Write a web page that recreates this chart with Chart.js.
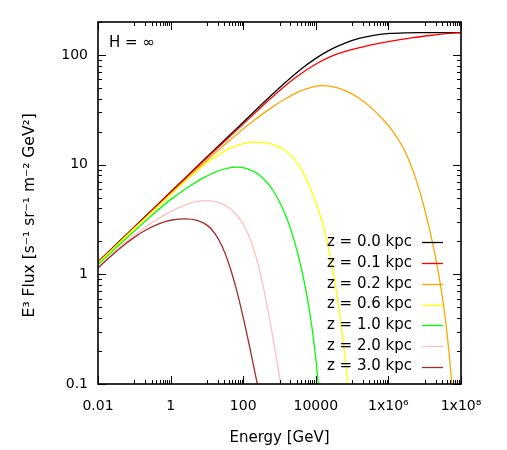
<!DOCTYPE html>
<html><head><meta charset="utf-8">
<script src="https://cdn.jsdelivr.net/npm/chart.js@4/dist/chart.umd.min.js"></script>
<style>html,body{margin:0;padding:0;background:#fff}#wrap{width:507px;height:450px}</style>
</head><body><div id="wrap"><canvas id="c" width="507" height="450"></canvas></div>
<script>
// ---- data (energy in GeV, E^3 flux) ----
const seriesLabels = ['z = 0.0 kpc','z = 0.1 kpc','z = 0.2 kpc','z = 0.6 kpc','z = 1.0 kpc','z = 2.0 kpc','z = 3.0 kpc'];
const seriesColors = ['#000000','#ff0000','#ffa500','#ffff00','#00ff00','#ffc0c0','#a52a2a'];

const eZ00 = [0.01,0.1,1,10,100,547,1418,3670,9510,24610,63740,165000,427500,1.107e6,2.866e6,7.42e6,1e8];
const fZ00 = [1.30,2.70,5.63,11.73,24.4,41.8,55.9,73.1,92.2,111.5,128.5,142.5,152.1,157.3,159.4,160,160];

const eZ01 = [0.01,0.1,1,10,81.6,351,1032,3035,8374,24610,72370,199700,586900,1.726e6,4.76e6,1.4e7,4.115e7,1e8];
const fZ01 = [1.286,2.68,5.57,11.55,22.0,34.7,47.7,63.6,79.9,96.0,109.0,118.7,128.2,136.9,144.2,150.7,156.5,160];

const eZ02 = [0.01,0.1,1,10,43.3,153.8,547,1418,3670,7860,16100,37650,87540,203400,383700,710000,1.365e6,2.574e6,3.936e6,6.02e6,9.15e6,1.4e7,1.922e7,2.64e7,3.296e7,4.037e7,4.762e7,5.596e7];
const fZ02 = [1.27,2.634,5.415,10.93,16.77,23.75,32.45,39.68,46.87,51.07,52.6,50.43,45.13,37.95,31.76,25.81,19.83,14.21,10.38,7.035,4.365,2.465,1.507,0.851,0.527,0.308,0.1824,0.1];

const eZ06 = [0.01,0.1,1,1.815,3.016,8.866,24.45,71.9,198.4,513.6,1249,2507,4167,6922,10790,16820,26230,38370,59830,77090];
const fZ06 = [1.259,2.614,5.314,6.417,7.46,10.08,12.75,15.04,16.05,15.65,13.92,11.34,8.82,6.23,4.24,2.597,1.344,0.640,0.2102,0.1];

const eZ10 = [0.01,0.1,0.3073,1,3.016,6.88,15.69,40.63,65.39,105.2,272.4,662.1,1418,2507,3911,5723,7859,10130,11720];
const fZ10 = [1.228,2.48,3.46,4.80,6.23,7.38,8.48,9.35,9.49,9.37,8.09,5.815,3.564,2.063,1.172,0.6336,0.3257,0.1638,0.1];

const eZ20 = [0.01,0.02589,0.0761,0.1971,0.5105,1.026,2.061,3.886,8.322,18.98,40.63,71.9,127.3,198.4,309.4,482.3,705.5,1079];
const fZ20 = [1.170,1.569,2.120,2.686,3.291,3.754,4.195,4.513,4.697,4.562,4.049,3.368,2.455,1.666,0.955,0.4688,0.2335,0.1];

const eZ30 = [0.01,0.02141,0.05544,0.1045,0.1971,0.5105,1.093,2.493,5.337,10.07,16.72,26.06,40.63,63.36,98.74,153.9,244.6];
const fZ30 = [1.141,1.439,1.877,2.197,2.512,2.921,3.129,3.202,3.103,2.810,2.357,1.810,1.237,0.7515,0.4121,0.2107,0.1];

const xTickValues = [0.01, 1, 100, 1e4, 1e6, 1e8];
const xTickLabels = ['0.01', '1', '100', '10000', '1x10\u2076', '1x10\u2078'];
const yTickValues = [0.1, 1, 10, 100];
const yTickLabels = ['0.1', '1', '10', '100'];
const xTitle = 'Energy [GeV]';
const yTitle = 'E\u00b3 Flux [s\u207b\u00b9 sr\u207b\u00b9 m\u207b\u00b2 GeV\u00b2]';
const noteText = 'H = \u221e';

// ---- build ----
const energies = [eZ00, eZ01, eZ02, eZ06, eZ10, eZ20, eZ30];
const fluxes = [fZ00, fZ01, fZ02, fZ06, fZ10, fZ20, fZ30];
const datasets = seriesLabels.map((lab, i) => ({
  label: lab,
  data: energies[i].map((e, j) => ({x: e, y: fluxes[i][j]})),
  borderColor: seriesColors[i],
  backgroundColor: seriesColors[i],
  borderWidth: 1.3,
  pointRadius: 0,
  fill: false,
  cubicInterpolationMode: 'monotone',
  order: -i
}));

const FONT = "'DejaVu Sans', Verdana, sans-serif";

const framePlugin = {
  id: 'framePlugin',
  afterDatasetsDraw(chart) {
    const {ctx, chartArea: a, scales: {x, y}} = chart;
    ctx.save();
    ctx.strokeStyle = '#000';
    ctx.lineWidth = 1;
    const MAJ = 8, MIN = 4;
    const tickX = (v, len) => {
      const px = Math.round(x.getPixelForValue(v)) + 0.5;
      ctx.beginPath();
      ctx.moveTo(px, a.bottom); ctx.lineTo(px, a.bottom - len);
      ctx.moveTo(px, a.top); ctx.lineTo(px, a.top + len);
      ctx.stroke();
    };
    const tickY = (v, len) => {
      const py = Math.round(y.getPixelForValue(v)) + 0.5;
      ctx.beginPath();
      ctx.moveTo(a.left, py); ctx.lineTo(a.left + len, py);
      ctx.moveTo(a.right, py); ctx.lineTo(a.right - len, py);
      ctx.stroke();
    };
    xTickValues.forEach((v, i) => {
      tickX(v, MAJ);
      if (i < xTickValues.length - 1) {
        for (let k = 1; k <= 9; k++) tickX(v * 10 * k, MIN);
      }
    });
    yTickValues.forEach(v => {
      tickY(v, MAJ);
      for (let k = 2; k <= 9; k++) { const m = v * k; if (m <= y.max) tickY(m, MIN); }
    });
    ctx.lineWidth = 1.6;
    ctx.strokeRect(a.left, a.top, a.right - a.left, a.bottom - a.top);

    // annotation
    ctx.fillStyle = '#000';
    ctx.font = '15px ' + FONT;
    ctx.textAlign = 'left';
    ctx.textBaseline = 'middle';
    ctx.fillText(noteText, a.left + 11, a.top + 21);

    // legend
    const rowH = 20.7;
    const y0 = a.bottom - 141.6;
    const textRight = a.right - 49;
    chart.data.datasets.forEach((ds, i) => {
      const yy = y0 + i * rowH;
      ctx.fillStyle = '#000';
      ctx.textAlign = 'right';
      ctx.fillText(ds.label, textRight, yy);
      ctx.strokeStyle = ds.borderColor;
      ctx.lineWidth = 1.3;
      ctx.beginPath();
      ctx.moveTo(textRight + 10, Math.round(yy) + 0.5);
      ctx.lineTo(textRight + 31, Math.round(yy) + 0.5);
      ctx.stroke();
    });
    ctx.restore();
  }
};

new Chart(document.getElementById('c'), {
  type: 'line',
  data: { datasets },
  options: {
    responsive: false,
    animation: false,
    devicePixelRatio: 1,
    layout: { padding: { left: 0, right: 46, top: 22, bottom: 0 } },
    plugins: { legend: { display: false }, tooltip: { enabled: false } },
    scales: {
      x: {
        type: 'logarithmic',
        min: 0.01, max: 1e8,
        afterFit(s) { s.height = 66; },
        afterBuildTicks(s) { s.ticks = xTickValues.map(v => ({value: v})); },
        grid: { display: false, drawTicks: false },
        border: { display: false },
        ticks: {
          autoSkip: false, maxRotation: 0, padding: 14, color: '#000',
          font: { family: FONT, size: 14 },
          callback(v) { const i = xTickValues.indexOf(v); return i >= 0 ? xTickLabels[i] : ''; }
        },
        title: { display: true, text: xTitle, color: '#000', font: { family: FONT, size: 15 }, padding: { top: 0, bottom: 3 } }
      },
      y: {
        type: 'logarithmic',
        min: 0.1, max: 200,
        afterFit(s) { s.width = 98; },
        afterBuildTicks(s) { s.ticks = yTickValues.map(v => ({value: v})); },
        grid: { display: false, drawTicks: false },
        border: { display: false },
        ticks: {
          autoSkip: false, padding: 10, color: '#000',
          font: { family: FONT, size: 14 },
          callback(v) { const i = yTickValues.indexOf(v); return i >= 0 ? yTickLabels[i] : ''; }
        },
        title: { display: true, text: yTitle + '     ', color: '#000', font: { family: FONT, size: 15.5 }, padding: { top: 21, bottom: 0 } }
      }
    }
  },
  plugins: [framePlugin]
});
</script>
</body></html>
